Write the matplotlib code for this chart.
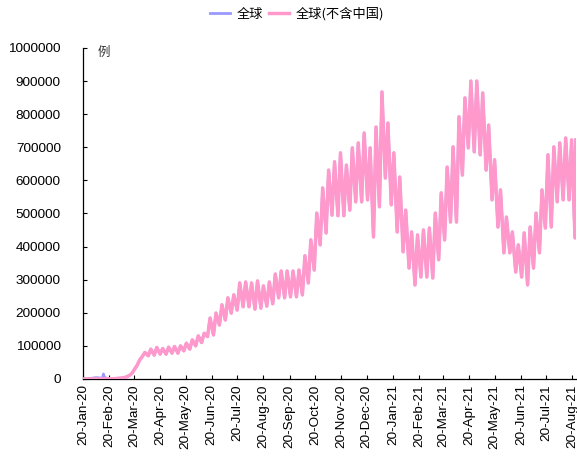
import matplotlib
matplotlib.use("Agg")
import matplotlib.pyplot as plt
import matplotlib.dates as mdates
import matplotlib.ticker as mticker
import pandas as pd

# ---- data (daily new cases) ----
# early period, ex-China (pink)
early_dates = ["2020-01-20", "2020-01-27", "2020-02-03", "2020-02-10", "2020-02-17",
               "2020-02-24", "2020-03-01", "2020-03-05", "2020-03-09", "2020-03-12",
               "2020-03-15", "2020-03-18", "2020-03-21", "2020-03-24", "2020-03-27",
               "2020-03-30", "2020-04-02", "2020-04-06", "2020-04-09", "2020-04-13",
               "2020-04-16", "2020-04-20", "2020-04-23", "2020-04-27", "2020-04-30",
               "2020-05-04", "2020-05-07", "2020-05-11", "2020-05-14", "2020-05-18",
               "2020-05-21", "2020-05-25", "2020-05-28", "2020-06-01", "2020-06-04",
               "2020-06-08", "2020-06-11", "2020-06-15"]
early_exchina = [0, 50, 100, 150, 200, 600, 1500, 2500, 4000, 7000,
                 11000, 18000, 30000, 42000, 58000, 68000, 80000, 70000, 90000, 72000,
                 95000, 75000, 92000, 75000, 96000, 78000, 98000, 78000, 100000, 85000,
                 108000, 90000, 118000, 100000, 130000, 110000, 138000, 128000]

# early period, global incl. China (blue)
global_early_dates = ["2020-01-20", "2020-01-25", "2020-01-28", "2020-02-01", "2020-02-04",
                      "2020-02-07", "2020-02-10", "2020-02-12", "2020-02-13", "2020-02-14",
                      "2020-02-17", "2020-02-20", "2020-02-25", "2020-03-01"]
global_early = [300, 700, 1500, 2600, 3900, 3400, 2500, 2000, 15000, 5000,
                2000, 900, 1200, 2200]

# weekly highs (Thursdays from 2020-06-18) and following lows (Mondays)
first_peak = "2020-06-18"
weekly_peaks = [184000, 199000, 224000, 245000, 254000, 290000, 293000, 290000, 296000, 281000,
                293000, 317000, 326000, 326000, 326000, 329000, 372000, 420000, 501000, 577000,
                631000, 656000, 683000, 646000, 698000, 713000, 743000, 698000, 761000, 867000,
                773000, 683000, 610000, 510000, 444000, 435000, 450000, 456000, 501000, 562000,
                640000, 701000, 792000, 849000, 900000, 900000, 864000, 767000, 662000, 571000,
                489000, 444000, 405000, 441000, 459000, 501000, 571000, 677000, 701000, 713000,
                728000, 722000]
weekly_lows = [133000, 163000, 178000, 199000, 208000, 218000, 218000, 211000, 214000, 220000,
               227000, 245000, 245000, 248000, 248000, 254000, 290000, 329000, 405000, 441000,
               495000, 493000, 493000, 510000, 535000, 535000, 541000, 429000, 520000, 607000,
               526000, 444000, 384000, 335000, 284000, 308000, 308000, 305000, 360000, 420000,
               474000, 474000, 616000, 698000, 686000, 677000, 631000, 541000, 459000, 381000,
               381000, 323000, 308000, 284000, 335000, 381000, 456000, 459000, 535000, 541000,
               541000, 426000]
last_date = "2021-08-24"
last_value = 722000

legend_labels = ["全球", "全球(不含中国)"]
unit_label = "例"

# ---- build series ----
peak_dates = pd.date_range(first_peak, periods=len(weekly_peaks), freq="7D")
low_dates = peak_dates + pd.Timedelta(days=4)
wk_dates, wk_vals = [], []
for pd_, pv, ld, lv in zip(peak_dates, weekly_peaks, low_dates, weekly_lows):
    wk_dates += [pd_, ld]
    wk_vals += [pv, lv]
wk_dates.append(pd.Timestamp(last_date))
wk_vals.append(last_value)

ex_dates = list(pd.to_datetime(early_dates)) + wk_dates
ex_vals = early_exchina + wk_vals

later = [(d, v) for d, v in zip(ex_dates, ex_vals) if d > pd.Timestamp(global_early_dates[-1])]
gl_dates = list(pd.to_datetime(global_early_dates)) + [d for d, _ in later]
gl_vals = global_early + [v for _, v in later]

# ---- plot ----
plt.rcParams['font.family'] = ['Liberation Sans', 'Noto Sans CJK SC', 'DejaVu Sans']
fig = plt.figure(figsize=(5.77, 4.61), dpi=100)
ax = fig.add_axes([0.144, 0.178, 0.854, 0.718])

ax.plot(gl_dates, gl_vals, color="#9999FF", lw=2.0, label=legend_labels[0], zorder=2)
ax.plot(ex_dates, ex_vals, color="#FF99CC", lw=2.5, label=legend_labels[1], zorder=3)

ax.set_ylim(0, 1000000)
ax.set_xlim(pd.Timestamp("2020-01-20"), pd.Timestamp(last_date))
ax.yaxis.set_major_locator(mticker.MultipleLocator(100000))
ax.yaxis.set_major_formatter(mticker.FuncFormatter(lambda v, p: f"{int(v)}"))
ax.xaxis.set_major_locator(mdates.MonthLocator(bymonthday=20))
ax.xaxis.set_major_formatter(mdates.DateFormatter("%d-%b-%y"))
for lab in ax.get_xticklabels():
    lab.set_rotation(90)

ax.tick_params(axis="both", direction="in", length=3, width=0.8, labelsize=9.7, colors="black")
ax.tick_params(axis="y", pad=16)
ax.tick_params(axis="x", pad=4)
for s in ["top", "right"]:
    ax.spines[s].set_visible(False)
for s in ["left", "bottom"]:
    ax.spines[s].set_linewidth(0.9)

ax.text(0.03, 1.005, unit_label, transform=ax.transAxes, ha="left", va="top",
        fontsize=9, color="#333333", family=['Noto Sans CJK SC', 'DejaVu Sans'])

fig.legend(loc="upper center", bbox_to_anchor=(0.515, 1.01), ncol=2, frameon=False,
           prop={'family': ['Noto Sans CJK SC', 'DejaVu Sans'], 'size': 9.5},
           handlelength=1.5, handletextpad=0.5, columnspacing=0.5)

fig.savefig("out.png", dpi=100)
